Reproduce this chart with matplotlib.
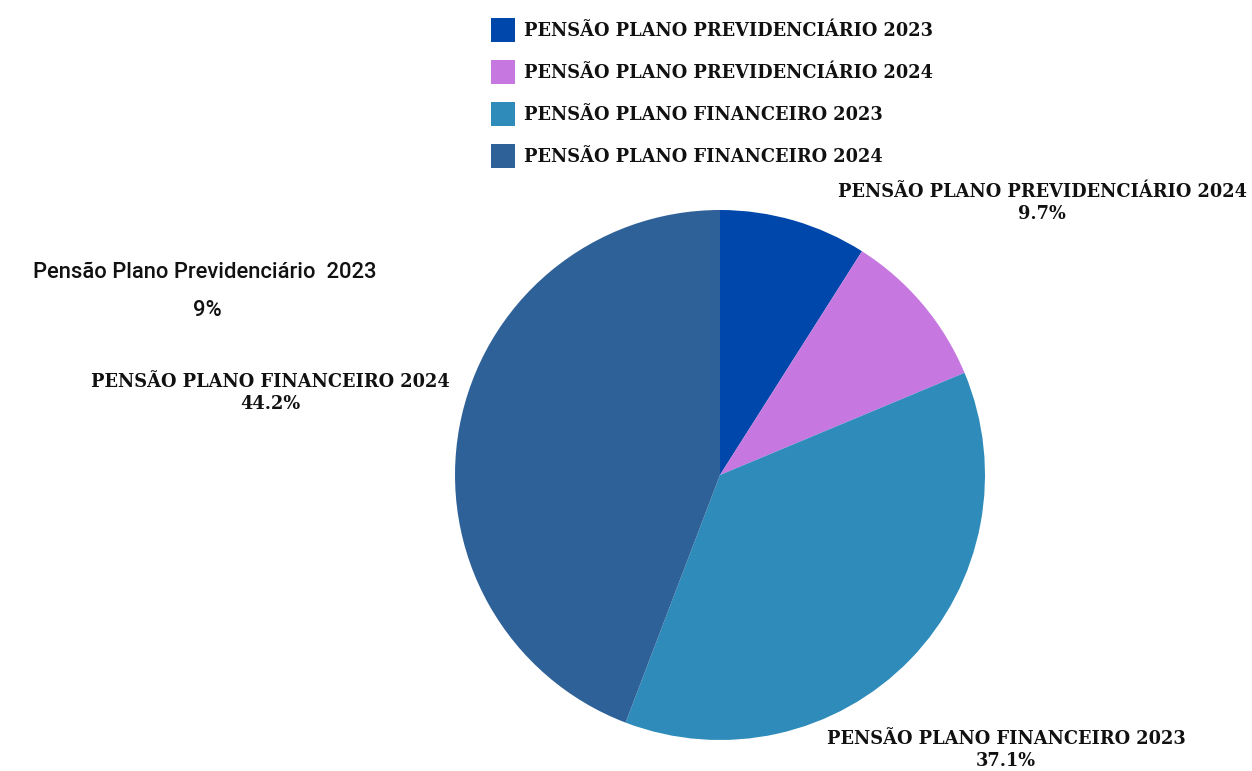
import matplotlib
matplotlib.use("Agg")
import matplotlib.pyplot as plt
from matplotlib.patches import Rectangle

categories = ["PENSÃO PLANO PREVIDENCIÁRIO 2023", "PENSÃO PLANO PREVIDENCIÁRIO 2024",
              "PENSÃO PLANO FINANCEIRO 2023", "PENSÃO PLANO FINANCEIRO 2024"]
values = [9.0, 9.7, 37.1, 44.2]
pct_labels = ["9%", "9.7%", "37.1%", "44.2%"]
colors = ["#0047AB", "#C678E0", "#2E8BBA", "#2F6199"]

W, H = 1252, 771
fig = plt.figure(figsize=(W / 100, H / 100), dpi=100)
fig.patch.set_facecolor("white")

def px(x, y):
    return x / W, 1 - y / H

# Pie
cx, cy, r = 720, 475, 265
ax = fig.add_axes([(cx - r) / W, (H - cy - r) / H, 2 * r / W, 2 * r / H])
ax.pie(values, colors=colors, startangle=90, counterclock=False,
       wedgeprops=dict(linewidth=0))
ax.set_xlim(-1, 1)
ax.set_ylim(-1, 1)
ax.set_aspect("equal")
ax.axis("off")

serif = dict(family="DejaVu Serif", weight="bold", size=12.8, color="#111111")

# Legend
for i, (cat, col) in enumerate(zip(categories, colors)):
    yc = 30 + i * 42
    fig.patches.append(Rectangle(px(491, yc + 12), 24 / W, 24 / H,
                                 transform=fig.transFigure, facecolor=col,
                                 edgecolor="none"))
    fig.text(*px(524, yc + 1), cat, ha="left", va="center", **serif)

# Slice labels
label_pos = {1: (1042, 191), 3: (270, 381), 2: (1006, 738)}
for i, (x, y) in label_pos.items():
    fig.text(*px(x, y + 1), categories[i], ha="center", va="center", **serif)
    fig.text(*px(x, y + 23), pct_labels[i], ha="center", va="center", **serif)

cond = dict(family=["Roboto", "DejaVu Sans"], weight="medium", size=15.8, color="#111111")
fig.text(*px(205, 272), "Pensão Plano Previdenciário  2023", ha="center", va="center", **cond)
fig.text(*px(207, 311), pct_labels[0], ha="center", va="center", **cond)

fig.savefig("out.png", dpi=100, facecolor="white")
